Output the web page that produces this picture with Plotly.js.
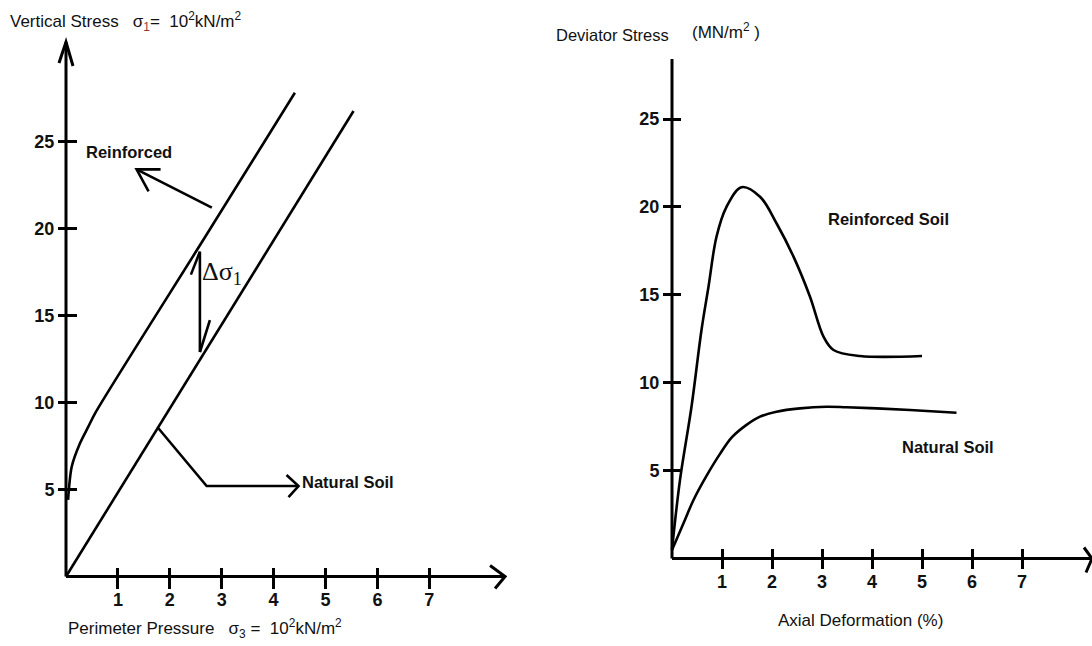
<!DOCTYPE html>
<html><head><meta charset="utf-8">
<script src="https://cdn.plot.ly/plotly-3.0.1.min.js"></script>
<style>html,body{margin:0;padding:0;background:#fff;}#chart{width:1092px;height:646px;}</style>
</head><body><div id="chart"></div>
<script>
// ---------------- DATA ----------------
// Left panel: Perimeter pressure σ3 vs vertical stress σ1 (10^2 kN/m^2)
const leftXTicks = [1, 2, 3, 4, 5, 6, 7];
const leftYTicks = [5, 10, 15, 20, 25];
const naturalLeftX = [0, 5.54];
const naturalLeftY = [0, 26.75];
const reinforcedLeftX = [0.04, 0.11, 0.27, 0.43, 0.56, 2.68, 4.41];
const reinforcedLeftY = [4.4, 6.31, 7.66, 8.61, 9.38, 19.51, 27.8];
// Right panel: axial deformation (%) vs deviator stress (MN/m^2)
const rightXTicks = [1, 2, 3, 4, 5, 6, 7];
const rightYTicks = [5, 10, 15, 20, 25];
const reinforcedRightX = [0, 0.16, 0.39, 0.59, 0.73, 0.89, 1.09, 1.39, 1.76, 2.09, 2.43, 2.76, 3.03, 3.23, 3.76, 5.0];
const reinforcedRightY = [0.5, 4.47, 8.63, 13.0, 15.46, 18.3, 20.0, 21.12, 20.58, 19.07, 17.17, 14.89, 12.62, 11.86, 11.52, 11.52];
const naturalRightX = [0, 0.23, 0.43, 0.69, 0.96, 1.2, 1.49, 1.76, 2.09, 2.56, 3.09, 3.49, 4.09, 4.76, 5.69];
const naturalRightY = [0.48, 2.0, 3.33, 4.7, 5.95, 6.9, 7.6, 8.07, 8.35, 8.54, 8.63, 8.6, 8.54, 8.45, 8.29];
// Annotation anchors (data units)
const leftAxisEnd = {x: 8.46, y: 30.72};
const rightAxisEnd = {x: 8.4, y: 28.41};
const reinforcedPointer = {x0: 2.81, y0: 21.2, x1: 1.36, y1: 23.4};
const deltaArrow = {x: 2.58, yTop: 18.67, yBottom: 12.9};
const naturalPointerX = [1.78, 2.71, 4.48];
const naturalPointerY = [8.52, 5.2, 5.2];

// ---------------- LAYOUT ----------------
const W = 1092, H = 646;
const L = {ox: 66, oy: 576.5, sx: 51.9, sy: 17.4, p0: 0, p1: 546};
const R = {ox: 672, oy: 558.5, sx: 50, sy: 17.58, p0: 546, p1: 1092};
const xr = P => [(P.p0 - P.ox) / P.sx, (P.p1 - P.ox) / P.sx];
const yr = P => [(P.oy - H) / P.sy, P.oy / P.sy];

const SANS = '"Liberation Sans", Arial, sans-serif';
const tickFont = {family: SANS, size: 18, color: '#111', weight: 'bold'};
const K = '#000';
const lw = 2.6;

function axis(extra) {
  return Object.assign({
    showgrid: false, zeroline: false, showline: false, ticks: 'outside',
    tickwidth: 3, tickcolor: K, tickfont: tickFont, anchor: 'free', fixedrange: true,
    tickmode: 'array'
  }, extra);
}

const traces = [
  {x: naturalLeftX, y: naturalLeftY, xaxis: 'x', yaxis: 'y', mode: 'lines', line: {color: K, width: lw}, hoverinfo: 'skip'},
  {x: reinforcedLeftX, y: reinforcedLeftY, xaxis: 'x', yaxis: 'y', mode: 'lines', line: {color: K, width: lw, shape: 'spline', smoothing: 0.8}, hoverinfo: 'skip'},
  {x: reinforcedRightX, y: reinforcedRightY, xaxis: 'x2', yaxis: 'y2', mode: 'lines', line: {color: K, width: lw, shape: 'spline', smoothing: 1}, hoverinfo: 'skip'},
  {x: naturalRightX, y: naturalRightY, xaxis: 'x2', yaxis: 'y2', mode: 'lines', line: {color: K, width: lw, shape: 'spline', smoothing: 1}, hoverinfo: 'skip'},
  {x: naturalPointerX, y: naturalPointerY, xaxis: 'x', yaxis: 'y', mode: 'lines', line: {color: K, width: lw}, hoverinfo: 'skip'}
];

function seg(xref, yref, x0, y0, x1, y1, w) {
  return {type: 'line', xref, yref, x0, y0, x1, y1, line: {color: K, width: w || lw}, layer: 'above'};
}
function head(xref, yref, xa, ya, path, w) {
  return {type: 'path', xref, yref, xsizemode: 'pixel', ysizemode: 'pixel', xanchor: xa, yanchor: ya,
    path, line: {color: K, width: w || lw}, layer: 'above'};
}

const shapes = [
  seg('x', 'y', 0, 0, leftAxisEnd.x, 0, 3),
  seg('x', 'y', 0, 0, 0, leftAxisEnd.y, 3),
  head('x', 'y', leftAxisEnd.x, 0, 'M -15 11 L 0 0 L -10 -12', 3),
  head('x', 'y', 0, leftAxisEnd.y, 'M -7 -21 L 0 0 L 7 -24', 3),
  seg('x2', 'y2', 0, 0, rightAxisEnd.x, 0, 3),
  seg('x2', 'y2', 0, 0, 0, rightAxisEnd.y, 3),
  head('x2', 'y2', rightAxisEnd.x, 0, 'M -8 11 L 0 0 L -6 -14', 3),
  seg('x', 'y', reinforcedPointer.x0, reinforcedPointer.y0, reinforcedPointer.x1, reinforcedPointer.y1),
  head('x', 'y', reinforcedPointer.x1, reinforcedPointer.y1, 'M 24 0 L 0 0 L 12 -22'),
  seg('x', 'y', deltaArrow.x, deltaArrow.yTop, deltaArrow.x, deltaArrow.yBottom),
  head('x', 'y', deltaArrow.x, deltaArrow.yTop, 'M 0 0 L -9 -23'),
  head('x', 'y', deltaArrow.x, deltaArrow.yBottom, 'M 0 0 L 10 32'),
  head('x', 'y', naturalPointerX[2], naturalPointerY[2], 'M -12 11 L 0 0 L -10 -11')
];

const reg = {family: SANS, size: 17, color: '#111'};
const bold = {family: SANS, size: 16.5, color: '#111', weight: 'bold'};
function txt(xref, yref, x, y, text, opt) {
  return Object.assign({xref, yref, x, y, text, showarrow: false, xanchor: 'left', yanchor: 'middle',
    font: reg}, opt || {});
}
const px = v => v / W, py = v => 1 - v / H;

const annotations = [
  txt('paper', 'paper', px(8), py(22), 'Vertical Stress   σ<sub><span style="color:#8b3a3a">1</span></sub>=  10<sup>2</sup>kN/m<sup>2</sup>'),
  txt('paper', 'paper', px(66), py(628), 'Perimeter Pressure   σ<sub>3</sub> =  10<sup>2</sup>kN/m<sup>2</sup>'),
  txt('paper', 'paper', px(554), py(35), 'Deviator Stress', {font: {family: SANS, size: 16.5, color: '#111'}}),
  txt('paper', 'paper', px(690), py(31), '(MN/m<sup>2</sup> )'),
  txt('paper', 'paper', px(776), py(620), 'Axial Deformation (%)'),
  txt('x', 'y', (84 - L.ox) / L.sx, (L.oy - 152) / L.sy, 'Reinforced', {font: bold}),
  txt('x', 'y', (300 - L.ox) / L.sx, (L.oy - 482) / L.sy, 'Natural Soil', {font: bold}),
  txt('x', 'y', (200 - L.ox) / L.sx, (L.oy - 273) / L.sy, 'Δσ<sub>1</sub>', {font: {family: '"Liberation Serif", "Times New Roman", serif', size: 26, color: '#111'}}),
  txt('x2', 'y2', (826 - R.ox) / R.sx, (R.oy - 219) / R.sy, 'Reinforced Soil', {font: bold}),
  txt('x2', 'y2', (900 - R.ox) / R.sx, (R.oy - 447) / R.sy, 'Natural Soil', {font: bold})
];

const layout = {
  width: W, height: H, margin: {l: 0, r: 0, t: 0, b: 0},
  paper_bgcolor: '#fff', plot_bgcolor: '#fff', showlegend: false,
  xaxis: axis({domain: [0, L.p1 / W], range: xr(L), position: 1 - (L.oy - 10) / H, ticklen: 21,
    ticklabelstandoff: -4, tickvals: leftXTicks, ticktext: leftXTicks.map(String)}),
  yaxis: axis({domain: [0, 1], range: yr(L), position: (L.ox + 11) / W, ticklen: 19,
    tickvals: leftYTicks, ticktext: leftYTicks.map(String)}),
  xaxis2: axis({domain: [R.p0 / W, 1], range: xr(R), position: 1 - (R.oy - 11) / H, ticklen: 20,
    ticklabelstandoff: -2, tickvals: rightXTicks, ticktext: rightXTicks.map(String)}),
  yaxis2: axis({domain: [0, 1], range: yr(R), position: (R.ox + 9) / W, ticklen: 18,
    tickvals: rightYTicks, ticktext: rightYTicks.map(String)}),
  shapes, annotations
};

Plotly.newPlot('chart', traces, layout, {staticPlot: true, displayModeBar: false});
</script>
</body></html>
